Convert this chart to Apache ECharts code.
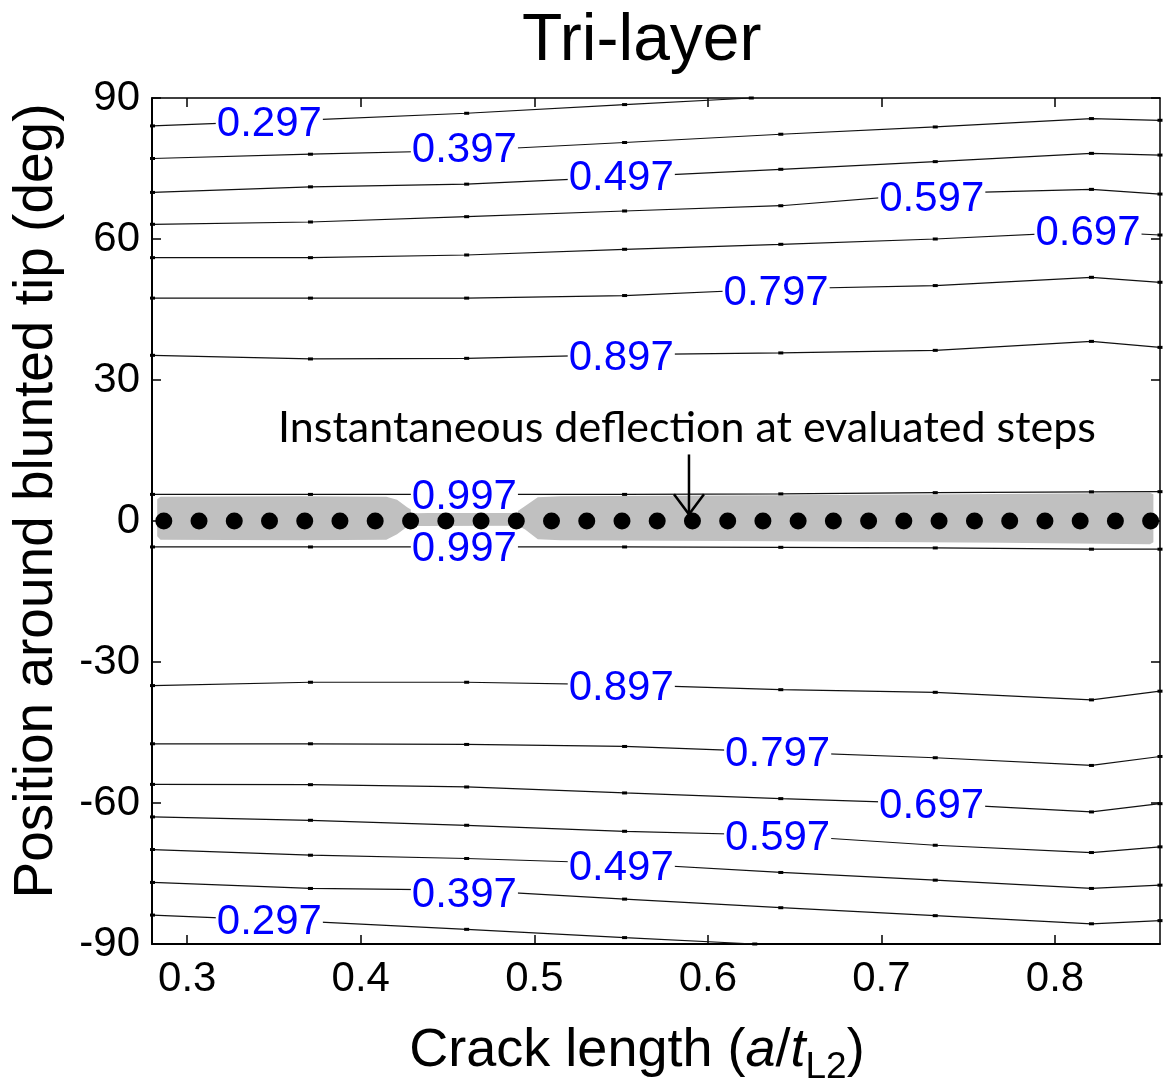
<!DOCTYPE html>
<html>
<head>
<meta charset="utf-8">
<script src="https://cdn.jsdelivr.net/npm/echarts@6/dist/echarts.min.js"></script>
<style>
html, body { margin: 0; padding: 0; background: #fff; }
#main { width: 1166px; height: 1091px; }
</style>
</head>
<body>
<div id="main"></div>
<script>
// tick labels
var xTicks = [0.3, 0.4, 0.5, 0.6, 0.7, 0.8];
var yTicks = [-90, -60, -30, 0, 30, 60, 90];

// crack length at the contour vertices
var gridX = [0.280, 0.371, 0.461, 0.552, 0.642, 0.731, 0.821, 0.8605];
var edgeUpX = [0.280, 0.371, 0.461, 0.552, 0.625];
var edgeLowX = [0.280, 0.371, 0.461, 0.552, 0.627];

// contour lines (deg) - upper half
var up297 = [84.06, 85.33, 86.75, 88.60, 90.0];
var up397 = [77.13, 78.04, 78.83, 80.53, 82.29, 83.84, 85.62, 85.26];
var up497 = [69.91, 71.10, 71.67, 73.21, 74.83, 76.46, 78.22, 77.86];
var up597 = [63.13, 63.62, 64.75, 65.96, 67.08, 69.71, 70.56, 69.56];
var up697 = [56.03, 56.03, 56.60, 57.81, 58.87, 60.00, 61.55, 60.85];
var up797 = [47.42, 47.42, 47.42, 47.97, 49.41, 50.09, 51.85, 50.79];
var up897 = [35.25, 34.48, 34.61, 35.40, 35.76, 36.31, 38.22, 36.94];
var up997 = [5.66, 5.66, 5.66, 5.66, 5.77, 6.03, 6.20, 6.24];
// lower half
var low997 = [-5.52, -5.52, -5.52, -5.52, -5.60, -5.73, -6.00, -6.00];
var low897 = [-35.02, -34.31, -34.31, -34.88, -35.89, -36.45, -38.06, -36.21];
var low797 = [-47.40, -47.40, -47.54, -47.97, -49.16, -50.37, -52.01, -50.10];
var low697 = [-56.04, -56.10, -56.59, -57.86, -59.07, -60.14, -61.90, -60.14];
var low597 = [-62.96, -63.68, -64.74, -66.02, -66.86, -68.99, -70.54, -69.33];
var low497 = [-69.90, -71.11, -71.81, -72.87, -74.78, -76.42, -78.18, -77.48];
var low397 = [-76.90, -78.18, -78.53, -80.45, -82.28, -83.97, -85.70, -85.03];
var low297 = [-83.85, -85.25, -86.88, -88.64, -90.0];

// contour labels
var labelText = ['0.297', '0.397', '0.497', '0.597', '0.697', '0.797', '0.897', '0.997',
                 '0.997', '0.897', '0.797', '0.697', '0.597', '0.497', '0.397', '0.297'];
var labelX = [0.3473, 0.4597, 0.5501, 0.7290, 0.8190, 0.6393, 0.5501, 0.4597,
              0.4597, 0.5501, 0.6402, 0.7289, 0.6402, 0.5501, 0.4597, 0.3473];
var labelY = [84.40, 78.80, 72.90, 68.40, 61.20, 48.50, 34.50, 5.00,
              -6.10, -35.60, -49.70, -60.70, -67.60, -73.90, -79.70, -85.45];

// grey band (highest level region)
var bandX = [0.2827, 0.2846, 0.3652, 0.4147, 0.4209, 0.4267, 0.4324, 0.4905, 0.4945, 0.5020, 0.5150, 0.6422, 0.7683, 0.8547, 0.8567];
var bandTop = [4.61, 5.14, 5.24, 5.14, 4.50, 2.91, 1.63, 2.12, 3.12, 5.03, 5.24, 5.46, 5.77, 6.03, 5.67];
var bandBottom = [-3.25, -3.99, -4.10, -3.99, -2.82, -1.23, -1.06, -1.02, -1.76, -3.88, -4.10, -4.31, -4.63, -4.95, -4.52];

// instantaneous deflection at evaluated steps
var dotX = [0.2865, 0.3068, 0.3271, 0.3474, 0.3677, 0.3880, 0.4083, 0.4287, 0.4490, 0.4693,
            0.4896, 0.5099, 0.5302, 0.5505, 0.5708, 0.5911, 0.6114, 0.6317, 0.6520, 0.6723,
            0.6926, 0.7129, 0.7332, 0.7536, 0.7739, 0.7942, 0.8145, 0.8348, 0.8551];
var dotY = [0, 0, 0, 0, 0, 0, 0, 0, 0, 0, 0, 0, 0, 0, 0, 0, 0, 0, 0, 0, 0, 0, 0, 0, 0, 0, 0, 0, 0];

// annotation arrow
var noteText = 'Instantaneous deflection at evaluated steps';
var arrowX = [0.5891];
var arrowTop = [14.16];
var arrowTip = [1.42];

var FONT = 'Liberation Sans, Arial, sans-serif';

function zip(xs, ys) {
    var out = [];
    for (var i = 0; i < xs.length; i++) out.push([xs[i], ys[i]]);
    return out;
}

function contour(xs, ys) {
    return {
        type: 'line',
        data: zip(xs, ys),
        symbol: 'rect',
        symbolSize: [5, 3],
        showAllSymbol: true,
        itemStyle: { color: '#000' },
        lineStyle: { color: '#111', width: 1.2 },
        silent: true,
        z: 3
    };
}

var myChart = echarts.init(document.getElementById('main'));

var lines = [
    contour(edgeUpX, up297), contour(gridX, up397), contour(gridX, up497), contour(gridX, up597),
    contour(gridX, up697), contour(gridX, up797), contour(gridX, up897), contour(gridX, up997),
    contour(gridX, low997), contour(gridX, low897), contour(gridX, low797), contour(gridX, low697),
    contour(gridX, low597), contour(gridX, low497), contour(gridX, low397), contour(edgeLowX, low297)
];

var labelData = [];
for (var i = 0; i < labelText.length; i++) {
    labelData.push([labelX[i], labelY[i], labelText[i]]);
}

var bandData = [];
for (var j = 0; j < bandX.length; j++) {
    bandData.push([bandX[j], bandTop[j], bandBottom[j]]);
}

var option = {
    animation: false,
    title: {
        text: 'Tri-layer',
        left: 522,
        top: 9,
        padding: 0,
        textStyle: { fontFamily: FONT, fontSize: 66, fontWeight: 'normal', color: '#000' }
    },
    grid: { left: 152, right: 6, top: 98, bottom: 145 },
    xAxis: [{
        type: 'value',
        min: 0.2797,
        max: 0.8605,
        position: 'bottom',
        axisLine: { onZero: false, lineStyle: { color: '#000', width: 2 } },
        axisTick: { inside: true, length: 9, customValues: xTicks, lineStyle: { color: '#000', width: 1.5 } },
        axisLabel: {
            customValues: xTicks, fontFamily: FONT, fontSize: 42, color: '#000', margin: 14,
            formatter: function (v) { return v.toFixed(1); }
        },
        splitLine: { show: false },
        name: '{n|Crack length (}{i|a}{n|/}{i|t}{s|L2}{n|)}',
        nameLocation: 'middle',
        nameGap: 80,
        nameTextStyle: {
            padding: [0, 38, 0, 0],
            rich: {
                n: { fontFamily: FONT, fontSize: 54, color: '#000', lineHeight: 58, verticalAlign: 'top' },
                i: { fontFamily: FONT, fontSize: 54, color: '#000', lineHeight: 58, verticalAlign: 'top', fontStyle: 'italic' },
                s: { fontFamily: FONT, fontSize: 37, color: '#000', lineHeight: 37, verticalAlign: 'top', padding: [25, 0, 0, 0] }
            }
        }
    }, {
        type: 'value',
        min: 0.2797,
        max: 0.8605,
        position: 'top',
        axisLine: { onZero: false, lineStyle: { color: '#000', width: 1.5 } },
        axisTick: { inside: true, length: 9, customValues: xTicks, lineStyle: { color: '#000', width: 1.5 } },
        axisLabel: { show: false },
        splitLine: { show: false }
    }],
    yAxis: [{
        type: 'value',
        min: -90,
        max: 90,
        interval: 30,
        position: 'left',
        axisLine: { onZero: false, lineStyle: { color: '#000', width: 2 } },
        axisTick: { inside: true, length: 9, lineStyle: { color: '#000', width: 1.5 } },
        axisLabel: { fontFamily: FONT, fontSize: 42, color: '#000', margin: 12 },
        splitLine: { show: false },
        name: 'Position around blunted tip (deg)',
        nameLocation: 'middle',
        nameGap: 88,
        nameTextStyle: { fontFamily: FONT, fontSize: 55, color: '#000', padding: [0, 0, 0, 40] }
    }, {
        type: 'value',
        min: -90,
        max: 90,
        interval: 30,
        position: 'right',
        axisLine: { onZero: false, lineStyle: { color: '#000', width: 1.5 } },
        axisTick: { inside: true, length: 9, lineStyle: { color: '#000', width: 1.5 } },
        axisLabel: { show: false },
        splitLine: { show: false }
    }],
    series: [{
        type: 'custom',
        data: bandData,
        silent: true,
        z: 1,
        renderItem: function (params, api) {
            if (params.dataIndex !== 0) return null;
            var pts = [];
            for (var k = 0; k < bandX.length; k++) pts.push(api.coord([bandX[k], bandTop[k]]));
            for (var m = bandX.length - 1; m >= 0; m--) pts.push(api.coord([bandX[m], bandBottom[m]]));
            return {
                type: 'polygon',
                shape: { points: pts },
                style: { fill: '#c0c0c0', stroke: null }
            };
        }
    }].concat(lines).concat([{
        type: 'scatter',
        data: labelData,
        symbolSize: 2,
        itemStyle: { color: 'rgba(255,255,255,0)', opacity: 1 },
        silent: true,
        z: 5,
        label: {
            show: true,
            position: 'inside',
            formatter: function (p) { return p.data[2]; },
            fontFamily: FONT,
            fontSize: 42,
            color: '#0000ff',
            backgroundColor: '#fff',
            lineHeight: 31,
            padding: [0, 1]
        },
        labelLayout: { hideOverlap: false }
    }, {
        type: 'scatter',
        data: zip(dotX, dotY),
        symbol: 'circle',
        symbolSize: 17,
        itemStyle: { color: '#000', opacity: 1 },
        silent: true,
        z: 8
    }, {
        type: 'custom',
        data: zip(arrowX, arrowTop),
        silent: true,
        z: 9,
        renderItem: function (params, api) {
            var top = api.coord([arrowX[params.dataIndex], arrowTop[params.dataIndex]]);
            var tip = api.coord([arrowX[params.dataIndex], arrowTip[params.dataIndex]]);
            return {
                type: 'group',
                children: [{
                    type: 'polyline',
                    shape: { points: [top, tip] },
                    style: { stroke: '#000', lineWidth: 2.5, fill: null }
                }, {
                    type: 'polyline',
                    shape: { points: [[tip[0] - 15, tip[1] - 20], tip, [tip[0] + 15, tip[1] - 20]] },
                    style: { stroke: '#000', lineWidth: 2.5, fill: null }
                }, {
                    type: 'text',
                    x: top[0] - 2,
                    y: top[1] - 5,
                    style: {
                        text: noteText,
                        fill: '#000',
                        fontFamily: 'Lato, sans-serif',
                        fontSize: 43,
                        align: 'center',
                        verticalAlign: 'bottom'
                    }
                }]
            };
        }
    }])
};

myChart.setOption(option);
</script>
</body>
</html>
